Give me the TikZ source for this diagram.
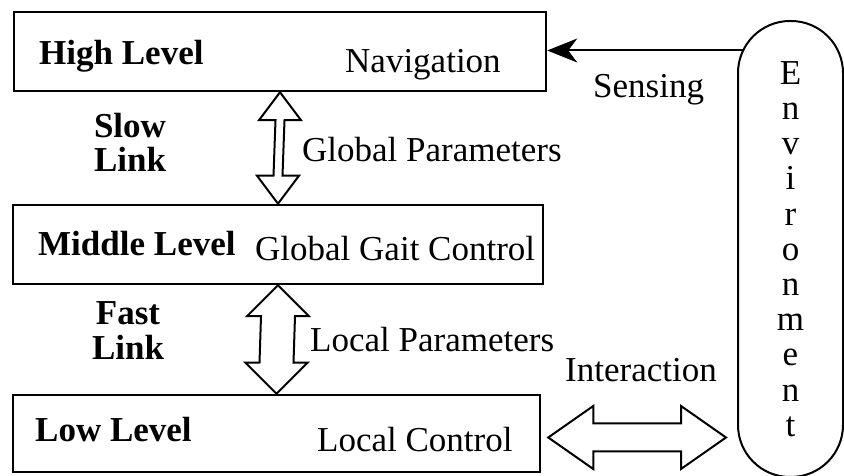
\documentclass[tikz,border=0pt]{standalone}
\usepackage{fontspec}
\setmainfont{Liberation Serif}
\usetikzlibrary{calc,arrows.meta}

\newcommand{\vlink}[5]{\draw[link] (#1) -- ++(#4,-#5) -- ++(#3-#4,0) -- ($(#2)+(#3,#5)$) -- ++(#4-#3,0) -- (#2) -- ++(-#4,#5) -- ++(#4-#3,0) -- ($(#1)+(-#3,-#5)$) -- ++(#3-#4,0) -- cycle;}
\newcommand{\hlink}[5]{\draw[link] (#1) -- ++(#5,#4) -- ++(0,#3-#4) -- ($(#2)+(-#5,#3)$) -- ++(0,#4-#3) -- (#2) -- ++(-#5,-#4) -- ++(0,#4-#3) -- ($(#1)+(#5,-#3)$) -- ++(0,#3-#4) -- cycle;}

\begin{document}
\begin{tikzpicture}[x=1pt,y=1pt,
  level/.style={draw,line width=2.5pt,inner sep=0pt},
  lbl/.style={inner sep=0pt,anchor=base west,font=\fontsize{35}{35}\selectfont},
  bold/.style={lbl,font=\fontsize{35}{35}\selectfont\bfseries},
  link/.style={draw,line width=2pt,fill=white,line join=miter}]
\useasboundingbox (0,0) rectangle (844,476);
\node (high) at (280,424.5) [level,minimum width=532pt,minimum height=79pt] {};
\node (middle) at (278,231.5) [level,minimum width=530pt,minimum height=79pt] {};
\node (low) at (276.5,42.5) [level,minimum width=527pt,minimum height=77pt] {};
\node (env) at (790.5,227) [draw,line width=2pt,rounded corners=52pt,minimum width=105pt,minimum height=456pt,inner sep=0pt,align=center,font=\fontsize{35}{35.2}\selectfont] {E\\n\\v\\i\\r\\o\\n\\m\\e\\n\\t};
\node (highname) at (39,411) [bold] {High Level};
\node (nav) at (345,403) [lbl] {Navigation};
\node (middlename) at (38,220) [bold] {Middle Level};
\node (gait) at (255,215) [lbl] {Global Gait Control};
\node (lowname) at (35,34) [bold] {Low Level};
\node (localctl) at (317,24) [lbl] {Local Control};
\node (slow) at (130,334) [bold,anchor=center,align=center,font=\fontsize{35}{34}\selectfont\bfseries] {Slow\\Link};
\node (fast) at (128,145.5) [bold,anchor=center,align=center,font=\fontsize{35}{35}\selectfont\bfseries] {Fast\\Link};
\node (globalpar) at (302,314) [lbl] {Global Parameters};
\node (localpar) at (310,124) [lbl] {Local Parameters};
\node (sensing) at (593,378) [lbl] {Sensing};
\node (interaction) at (565,94) [lbl] {Interaction};
\vlink{high.south}{middle.north}{4.5}{21}{28}
\vlink{middle.south}{low.north}{17}{31}{31}
\coordinate (sense) at ($(env.north)+(-47.9,-30.5)$);
\draw[line width=2pt,-{Stealth[length=30pt,width=24pt,inset=9pt]}] (sense) -- (sense -| high.east);
\coordinate (intl) at ($(low.east)+(7,-4)$);
\coordinate (intr) at ($(env.west |- intl)+(-11,0)$);
\hlink{intl}{intr}{14}{31.5}{45}
\end{tikzpicture}
\end{document}
